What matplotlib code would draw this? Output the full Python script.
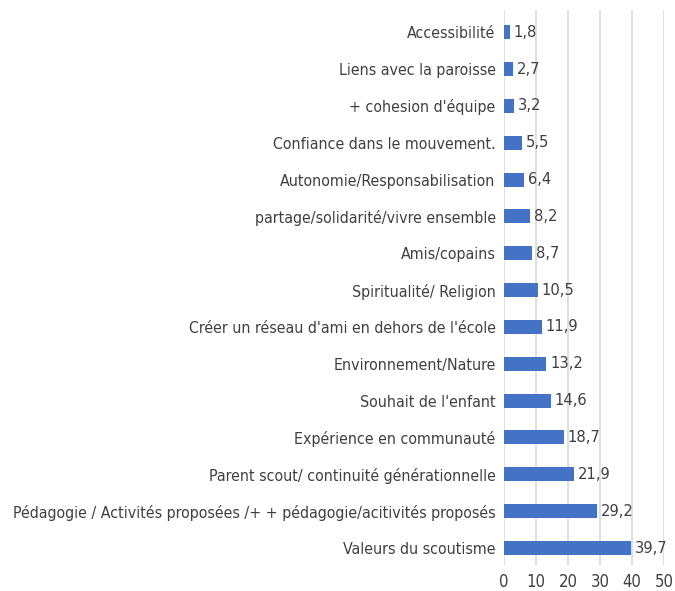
import matplotlib
matplotlib.use("Agg")
import matplotlib.pyplot as plt
import numpy as np

categories = [
    "Valeurs du scoutisme",
    "Pédagogie / Activités proposées /+ + pédagogie/acitivités proposés",
    "Parent scout/ continuité générationnelle",
    "Expérience en communauté",
    "Souhait de l'enfant",
    "Environnement/Nature",
    "Créer un réseau d'ami en dehors de l'école",
    "Spiritualité/ Religion",
    "Amis/copains",
    "partage/solidarité/vivre ensemble",
    "Autonomie/Responsabilisation",
    "Confiance dans le mouvement.",
    "+ cohesion d'équipe",
    "Liens avec la paroisse",
    "Accessibilité",
]
values = [39.7, 29.2, 21.9, 18.7, 14.6, 13.2, 11.9, 10.5, 8.7, 8.2, 6.4, 5.5, 3.2, 2.7, 1.8]
xticks = [0, 10, 20, 30, 40, 50]

plt.rcParams['font.family'] = ['DejaVu Sans']
plt.rcParams['font.stretch'] = 'condensed'
text_color = '#404040'

fig = plt.figure(figsize=(6.75, 5.91), dpi=100)
ax = fig.add_axes([0.7467, 0.044, 0.237, 0.939])

y = np.arange(len(categories))
ax.barh(y, values, height=0.38, color='#4472C4', zorder=3)

for yi, v in zip(y, values):
    ax.text(v + 1.2, yi, f"{v:.1f}".replace('.', ','), va='center', ha='left',
            fontsize=11.8, color=text_color, zorder=4)

ax.set_xlim(0, 50)
ax.set_ylim(-0.46, 14.6)
ax.set_xticks(xticks)
ax.set_xticklabels([str(t) for t in xticks], fontsize=12, color=text_color)
ax.set_yticks(y)
ax.set_yticklabels(categories, fontsize=11.4, color=text_color)
ax.tick_params(axis='both', length=0, pad=6)
ax.tick_params(axis='x', pad=6)

ax.grid(axis='x', color='#d9d9d9', linewidth=1.2, zorder=0)
for s in ax.spines.values():
    s.set_visible(False)

fig.savefig('out.png', dpi=100)
